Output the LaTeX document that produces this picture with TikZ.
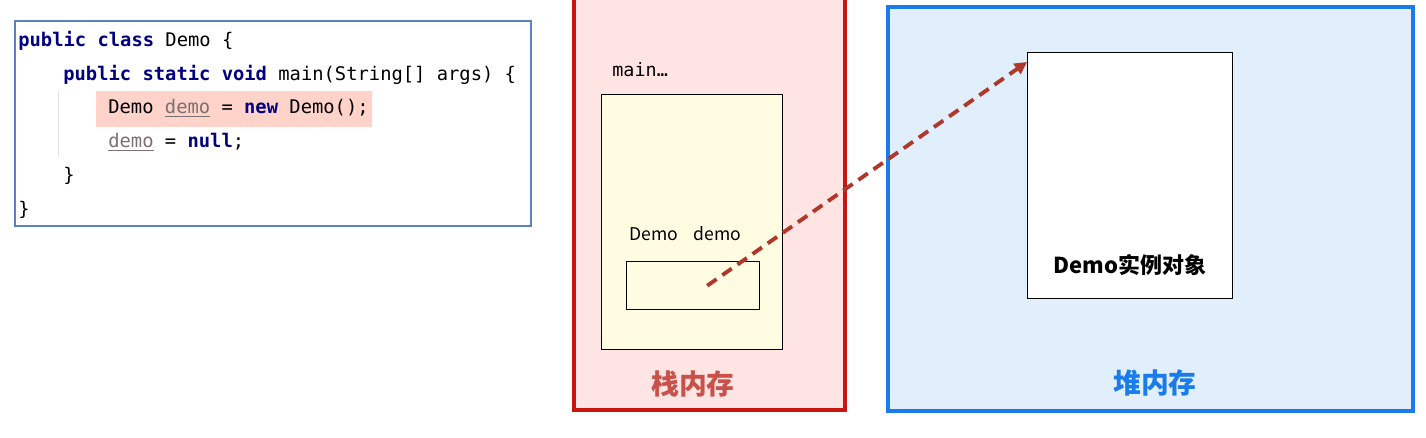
\documentclass[tikz,border=0pt]{standalone}
\usepackage{fontspec}
\setmonofont{DejaVu Sans Mono}
\newfontfamily\cjk{Noto Sans CJK SC}
\usetikzlibrary{arrows.meta}
\newcommand{\px}{0.02cm}
\definecolor{kwblue}{HTML}{000080}
\definecolor{vargray}{HTML}{7A7272}
\definecolor{codeblue}{HTML}{5A82C0}
\definecolor{hlpink}{HTML}{FFD2CA}
\definecolor{stackred}{HTML}{C8160E}
\definecolor{stackpink}{HTML}{FFE4E4}
\definecolor{stacklabel}{HTML}{C8524A}
\definecolor{frameyellow}{HTML}{FFFCE2}
\definecolor{heapblue}{HTML}{1A7BEA}
\definecolor{heapfill}{HTML}{E1EFFC}
\definecolor{arrowred}{HTML}{B0382B}
\newcommand{\kw}[1]{\textcolor{kwblue}{\textbf{#1}}}
\newcommand{\localvar}[1]{\textcolor{vargray}{\underline{#1}}}

\begin{document}
\begin{tikzpicture}[x=\px, y=-\px,
    box/.style={draw, rectangle, anchor=north west, inner sep=0pt},
    code/.style={anchor=base west, inner sep=0pt, font=\ttfamily\fontsize{10.7}{12}\selectfont},
    area/.style={font=\cjk\bfseries\fontsize{15.8}{18}\selectfont},
    ref/.style={draw=arrowred, line width=2.2pt, dash pattern=on 6.5pt off 4pt, -{Triangle[length=7pt, width=7pt]}}]
    \clip (0,0) rectangle (1426,438);
    \fill[white] (0,0) rectangle (1426,438);

    % Code
    \node[box, draw=codeblue, line width=1pt, fill=white, minimum width=516*\px, minimum height=205*\px] (code) at (14,20) {};
    \node[box, draw=none, fill=hlpink, minimum width=276*\px, minimum height=36*\px] (hl) at (96,91) {};
    \draw[black!10] (58,90) -- (58,157);
    \node[code] (code-1) at (18,47) {\kw{public class} Demo \{};
    \node[code] (code-2) at (63,81) {\kw{public static void} main(String[] args) \{};
    \node[code] (code-3) at (108,114) {Demo \localvar{demo} = \kw{new} Demo();};
    \node[code] (code-4) at (108,148) {\localvar{demo} = \kw{null};};
    \node[code] (code-5) at (63,182) {\}};
    \node[code] (code-6) at (18,216) {\}};

    % Stack
    \node[box, draw=stackred, line width=2.3pt, fill=stackpink, minimum width=271*\px, minimum height=418*\px] (stack) at (572,-10) {};
    \node[anchor=west, inner sep=0pt, font=\ttfamily\fontsize{10.5}{12}\selectfont] (main) at (612,70) {main…};
    \node[box, line width=0.8pt, fill=frameyellow, minimum width=181*\px, minimum height=255*\px] (frame) at (601,94) {};
    \node[anchor=west, inner sep=0pt, font=\cjk\fontsize{10}{12}\selectfont] (var-label) at (629,234) {Demo\hspace{0.9em}demo};
    \node[box, line width=0.8pt, minimum width=133*\px, minimum height=48*\px] (var) at (626,261) {};
    \node[area, text=stacklabel] (stack-label) at (693,384) {栈内存};

    % Heap
    \node[box, draw=heapblue, line width=2.3pt, fill=heapfill, minimum width=525*\px, minimum height=404*\px] (heap) at (886,5) {};
    \node[box, line width=0.8pt, fill=white, minimum width=205*\px, minimum height=246*\px] (obj) at (1027,52) {};
    \node[font=\cjk\bfseries\fontsize{12.5}{14}\selectfont] (obj-label) at (1130,265) {Demo实例对象};
    \node[area, text=heapblue] (heap-label) at (1155,383) {堆内存};

    % Reference
    \draw[ref] ([xshift=14*\px]var.center) -- ([yshift=-10*\px]obj.north west);

\end{tikzpicture}
\end{document}
